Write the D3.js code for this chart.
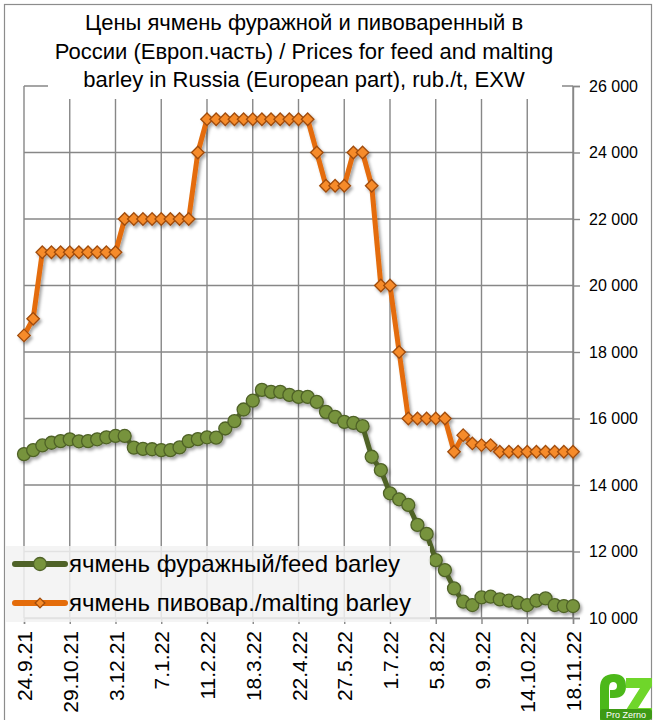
<!doctype html>
<html lang="ru">
<head>
    <meta charset="utf-8">
    <title>Barley prices</title>
    <script src="https://d3js.org/d3.v7.min.js"></script>
    <style>
        body { margin: 0; padding: 0; background: #fff; }
        svg { display: block; font-family: 'Liberation Sans', Arial, sans-serif; }
    </style>
</head>
<body>
    <div class="home"></div>
    <script>
        // weekly dates, labelled every 5th week
        const tickLabels = ["24.9.21", "29.10.21", "3.12.21", "7.1.22", "11.2.22", "18.3.22", "22.4.22",
                            "27.5.22", "1.7.22", "5.8.22", "9.9.22", "14.10.22", "18.11.22"];
        const yTicks = [10000, 12000, 14000, 16000, 18000, 20000, 22000, 24000, 26000];

        // feed barley, rub./t
        const feed = [14930, 15050, 15190, 15270, 15320, 15375, 15315, 15320, 15375, 15435,
                      15475, 15475, 15125, 15085, 15075, 15050, 15050, 15130, 15320, 15380,
                      15435, 15425, 15700, 15920, 16270, 16535, 16860, 16800, 16800, 16710,
                      16650, 16650, 16500, 16200, 16050, 15900, 15870, 15770, 14850, 14450,
                      13750, 13570, 13400, 12800, 12530, 11740, 11440, 10890, 10490, 10390,
                      10620, 10640, 10560, 10520, 10460, 10390, 10520, 10590, 10390, 10360,
                      10360];
        // malting barley, rub./t
        const malting = [18500, 19000, 21000, 21000, 21000, 21000, 21000, 21000, 21000, 21000,
                         21000, 22000, 22000, 22000, 22000, 22000, 22000, 22000, 22000, 24000,
                         25000, 25000, 25000, 25000, 25000, 25000, 25000, 25000, 25000, 25000,
                         25000, 25000, 24000, 23000, 23000, 23000, 24000, 24000, 23000, 20000,
                         20000, 18000, 16000, 16000, 16000, 16000, 16000, 15000, 15500, 15250,
                         15200, 15200, 15000, 15000, 15000, 15000, 15000, 15000, 15000, 15000,
                         15000];

        const titleLines = ["Цены ячмень фуражной и пивоваренный в",
                            "России (Европ.часть) / Prices for feed and malting",
                            "barley in Russia (European part), rub./t, EXW"];
        const seriesNames = ["ячмень фуражный/feed barley", "ячмень пивовар./malting barley"];

        var width = 653, height = 720;
        var svg = d3.select(".home").append("svg")
            .attr("width", width)
            .attr("height", height);

        // shadow like the spreadsheet chart
        var defs = svg.append("defs");
        defs.append("filter").attr("id", "shadow")
            .attr("x", "-10%").attr("y", "-10%").attr("width", "130%").attr("height", "130%")
            .append("feDropShadow")
            .attr("dx", 2).attr("dy", 2.5).attr("stdDeviation", 1.6)
            .attr("flood-color", "#000").attr("flood-opacity", 0.35);

        // outer frame
        svg.append("rect")
            .attr("x", 4.5).attr("y", 4.5)
            .attr("width", 647).attr("height", 725)
            .style("fill", "#fff")
            .style("stroke", "#8c8c8c")
            .style("stroke-width", 1.2);

        const x = d3.scaleLinear().domain([0, feed.length - 1]).range([24, 573]);
        const y = d3.scaleLinear().domain([10000, 26000]).range([618, 86]);
        const gridColor = "#878787";

        // grid
        const grid = svg.append("g").attr("class", "grid");
        grid.selectAll("line.h")
            .data(yTicks)
            .enter().append("line")
            .attr("class", "h")
            .attr("x1", x(0)).attr("x2", x(feed.length - 1))
            .attr("y1", d => y(d)).attr("y2", d => y(d))
            .style("stroke", gridColor).style("stroke-width", 1.4);
        grid.selectAll("line.v")
            .data(tickLabels)
            .enter().append("line")
            .attr("class", "v")
            .attr("x1", (d, i) => x(i * 5)).attr("x2", (d, i) => x(i * 5))
            .attr("y1", y(26000)).attr("y2", y(10000))
            .style("stroke", gridColor).style("stroke-width", 1.4);

        // right axis
        const yAxis = d3.axisRight(y).tickValues(yTicks).tickSize(7).tickPadding(9)
            .tickFormat(d => d3.format(",")(d).replace(",", " "));
        svg.append("g")
            .attr("transform", "translate(" + x(feed.length - 1) + ",0)")
            .call(yAxis)
            .call(g => g.select(".domain").style("stroke", gridColor).style("stroke-width", 1.4))
            .call(g => g.selectAll(".tick line").style("stroke", gridColor).style("stroke-width", 1.4))
            .call(g => g.selectAll("text").style("font-size", "16px").style("fill", "#000")
                .style("font-family", "'Liberation Sans', Arial, sans-serif"));

        // bottom axis with rotated date labels
        const xAxis = d3.axisBottom(x).tickValues(tickLabels.map((d, i) => i * 5))
            .tickSize(6).tickFormat((d, i) => tickLabels[i]);
        svg.append("g")
            .attr("transform", "translate(0," + y(10000) + ")")
            .call(xAxis)
            .call(g => g.select(".domain").style("stroke", gridColor).style("stroke-width", 1.4))
            .call(g => g.selectAll(".tick line").style("stroke", gridColor).style("stroke-width", 1.4))
            .call(g => g.selectAll("text")
                .attr("transform", "rotate(-90)")
                .attr("x", -13).attr("y", 0).attr("dy", "0.36em")
                .style("text-anchor", "end")
                .style("font-size", "21px").style("fill", "#000")
                .style("font-family", "'Liberation Sans', Arial, sans-serif"));

        // series
        const line = d3.line().x((d, i) => x(i)).y(d => y(d));

        const gFeed = svg.append("g").attr("filter", "url(#shadow)");
        gFeed.append("path")
            .datum(feed)
            .attr("d", line)
            .style("fill", "none")
            .style("stroke", "#4f6228")
            .style("stroke-width", 5)
            .style("stroke-linejoin", "round");
        gFeed.selectAll("circle")
            .data(feed)
            .enter().append("circle")
            .attr("cx", (d, i) => x(i)).attr("cy", d => y(d))
            .attr("r", 6.5)
            .style("fill", "#77933c")
            .style("stroke", "#4f6228")
            .style("stroke-width", 1.3);

        const diamond = d3.symbol().type(d3.symbolDiamond2).size(100);
        const gMalt = svg.append("g").attr("filter", "url(#shadow)");
        gMalt.append("path")
            .datum(malting)
            .attr("d", line)
            .style("fill", "none")
            .style("stroke", "#e46c0a")
            .style("stroke-width", 5)
            .style("stroke-linejoin", "round");
        gMalt.selectAll("path.pt")
            .data(malting)
            .enter().append("path")
            .attr("class", "pt")
            .attr("d", diamond)
            .attr("transform", (d, i) => "translate(" + x(i) + "," + y(d) + ")")
            .style("fill", "#f68b2a")
            .style("stroke", "#a04c0c")
            .style("stroke-width", 1.3);

        // title on a white box hiding the top of the grid
        svg.append("rect")
            .attr("x", 48).attr("y", 6)
            .attr("width", 514).attr("height", 93)
            .style("fill", "#fff");
        svg.append("g").selectAll("text")
            .data(titleLines)
            .enter().append("text")
            .attr("x", 304)
            .attr("y", (d, i) => 30 + i * 28.5)
            .attr("text-anchor", "middle")
            .style("font-size", "22px")
            .style("fill", "#000")
            .text(d => d);

        // legend
        const legend = svg.append("g").attr("class", "legend");
        legend.append("rect")
            .attr("x", 5).attr("y", 546)
            .attr("width", 425).attr("height", 76)
            .style("fill", "#f2f2f2")
            .style("fill-opacity", 0.85);
        const items = legend.selectAll("g.item")
            .data(seriesNames)
            .enter().append("g")
            .attr("class", "item")
            .attr("transform", (d, i) => "translate(0," + (564 + i * 39) + ")");
        items.append("line")
            .attr("x1", 15).attr("x2", 65)
            .style("stroke", (d, i) => i === 0 ? "#4f6228" : "#e46c0a")
            .style("stroke-width", 6)
            .style("stroke-linecap", "round");
        items.filter((d, i) => i === 0).append("circle")
            .attr("cx", 40).attr("r", 6.5)
            .style("fill", "#77933c").style("stroke", "#4f6228").style("stroke-width", 1.3);
        items.filter((d, i) => i === 1).append("path")
            .attr("d", d3.symbol().type(d3.symbolDiamond2).size(60))
            .attr("transform", "translate(40,0)")
            .style("fill", "#f68b2a").style("stroke", "#a04c0c").style("stroke-width", 1.3);
        items.append("text")
            .attr("x", 69).attr("dy", "0.35em")
            .style("font-size", "24px")
            .style("fill", "#000")
            .text(d => d);

        // ProZerno logo
        const logo = svg.append("g").attr("transform", "translate(598,672)");
        logo.append("path")
            .attr("d", "M2,48 L2,16 Q2,2 16,2 Q28,2 28,14 Q28,26 16,26 L12,26 L12,18 L15,18 Q19,18 19,14 Q19,10 15,10 Q11,10 11,16 L11,48 Z")
            .style("fill", "#4cb81a");
        logo.append("path")
            .attr("d", "M28,6 L54,6 L54,14 L40,36 L54,36 L54,46 L28,46 L28,38 L42,16 L28,16 Z")
            .style("fill", "#6fd62a");
        logo.append("rect")
            .attr("x", 2).attr("y", 37).attr("width", 52).attr("height", 11)
            .attr("rx", 3)
            .style("fill", "#3e9a15");
        logo.append("text")
            .attr("x", 28).attr("y", 46)
            .attr("text-anchor", "middle")
            .style("font-size", "9px")
            .style("fill", "#fff")
            .text("Pro Zerno");
    </script>
</body>
</html>
